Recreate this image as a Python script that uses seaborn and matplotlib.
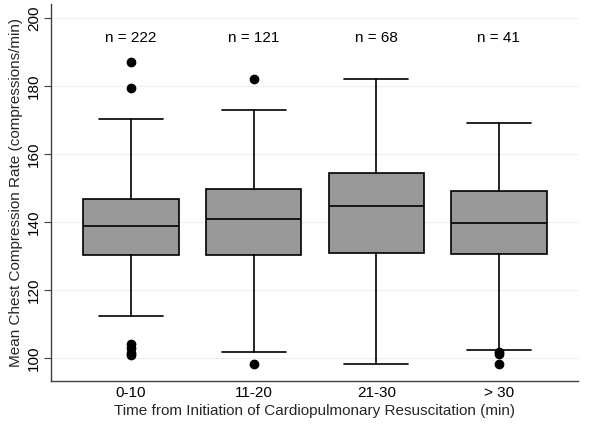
import matplotlib
matplotlib.use('Agg')
import matplotlib.pyplot as plt
import seaborn as sns

# Box summaries (compressions/min)
groups = ['0-10', '11-20', '21-30', '> 30']
n_obs = [222, 121, 68, 41]
q1 = [130.4, 130.4, 130.9, 130.6]
medians = [139.0, 140.9, 144.7, 139.9]
q3 = [146.9, 149.9, 154.6, 149.3]
whisk_lo = [112.5, 101.8, 98.3, 102.3]
whisk_hi = [170.3, 173.1, 182.2, 169.2]
outliers = [
    [187.1, 179.6, 104.2, 103.0, 101.6, 101.1],
    [182.1, 98.4],
    [],
    [101.9, 101.3, 98.4],
]

sns.set_theme(style='white')
plt.rcParams['font.family'] = ['Liberation Sans', 'DejaVu Sans']

fig = plt.figure(figsize=(6, 4.29), dpi=100)
ax = fig.add_axes([0.085, 0.1126, 0.878, 0.878])

stats = []
for i, g in enumerate(groups):
    stats.append({
        'label': g,
        'q1': q1[i],
        'med': medians[i],
        'q3': q3[i],
        'whislo': whisk_lo[i],
        'whishi': whisk_hi[i],
        'fliers': outliers[i],
    })

line_kw = dict(color='black', linewidth=1.2)
ax.bxp(stats, positions=range(len(groups)), widths=0.776, capwidths=0.52,
       patch_artist=True,
       boxprops=dict(facecolor='#989898', edgecolor='black', linewidth=1.2),
       medianprops=line_kw, whiskerprops=line_kw, capprops=line_kw,
       flierprops=dict(marker='o', markerfacecolor='black', markeredgecolor='black',
                       markersize=6, linestyle='none'))

# sample sizes above each box
for i, n in enumerate(n_obs):
    ax.text(i, 194.2, f'n = {n}', ha='center', va='center', fontsize=11, color='black')

ax.set_xlim(-0.652, 3.643)
ax.set_ylim(93.4, 204.2)
ax.set_yticks([100, 120, 140, 160, 180, 200])
ax.set_xticks(range(len(groups)))
ax.set_xticklabels(groups)
ax.yaxis.grid(True, color='#eeeeee', linewidth=0.8)
ax.set_axisbelow(True)

ax.tick_params(axis='y', which='both', left=True, length=5, width=0.8,
               color='#404040', labelsize=11, labelcolor='black', pad=2)
ax.tick_params(axis='x', bottom=False, length=0, labelsize=11, labelcolor='black', pad=4)
for lbl in ax.get_yticklabels():
    lbl.set_rotation(90)
    lbl.set_va('center')

sns.despine(ax=ax, top=True, right=True)
for s in ['left', 'bottom']:
    ax.spines[s].set_color('#404040')
    ax.spines[s].set_linewidth(1.0)

ax.set_xlabel('Time from Initiation of Cardiopulmonary Resuscitation (min)',
              fontsize=11, labelpad=3)
ax.set_ylabel('Mean Chest Compression Rate (compressions/min)', fontsize=11, labelpad=3)

fig.savefig('out.png', dpi=100)
